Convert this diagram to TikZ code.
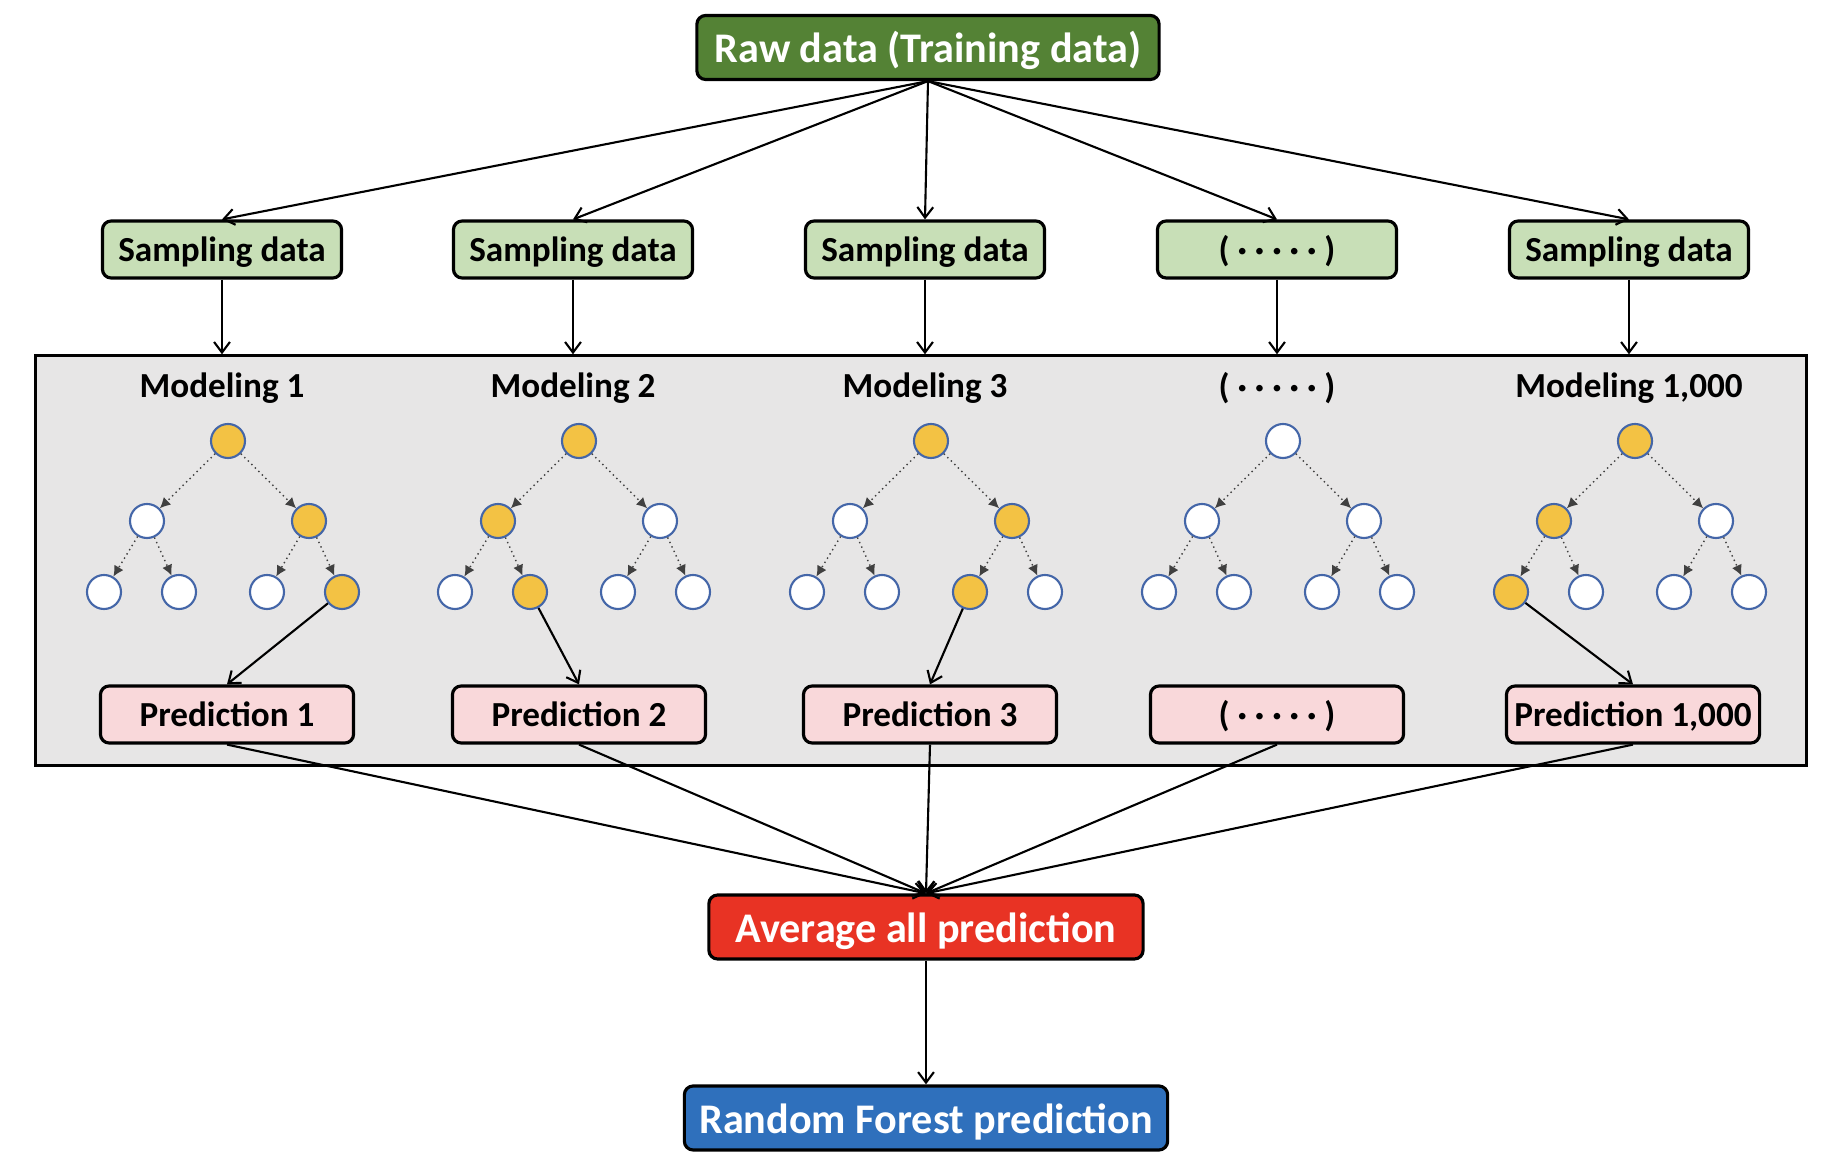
\documentclass[tikz,border=0pt]{standalone}
\usepackage{fontspec}
\setmainfont{Carlito}
\usetikzlibrary{arrows.meta}

\definecolor{rawgreen}{HTML}{548235}
\definecolor{sampgreen}{HTML}{C8DFB7}
\definecolor{predpink}{HTML}{F9D8DA}
\definecolor{avgred}{HTML}{E83324}
\definecolor{rfblue}{HTML}{2F70BC}
\definecolor{panelgray}{HTML}{E7E6E6}
\definecolor{nodeorange}{HTML}{F3C244}
\definecolor{nodeblue}{HTML}{4466A8}

\tikzset{
    rbox/.style = {draw, line width = 0.9pt, rounded corners = 2.5pt, inner sep = 0pt,
                   text height = 7pt, text depth = 0pt,
                   font = \bfseries\fontsize{10}{12}\selectfont},
    sampbox/.style = {rbox, fill = sampgreen, minimum width = 2.39cm, minimum height = 0.57cm},
    predbox/.style = {rbox, fill = predpink, minimum width = 2.53cm, minimum height = 0.57cm},
    bigbox/.style = {rbox, text = white, minimum height = 0.64cm, text height = 8.6pt,
                     font = \bfseries\fontsize{12}{14}\selectfont},
    onpath/.style = {circle, draw = nodeblue, line width = 0.6pt, fill = nodeorange,
                     minimum size = 0.34cm, inner sep = 0pt},
    offpath/.style = {onpath, fill = white},
    flow/.style = {-{Straight Barb[length = 3pt, width = 4.5pt]}, line width = 0.6pt},
    split/.style = {-{Latex[length = 3pt, width = 3pt]}, densely dotted, line width = 0.4pt, black!75},
}

\begin{document}
\begin{tikzpicture}[x = 0.01cm, y = -0.01cm]
    \useasboundingbox (0,0) rectangle (1841,1167);

    % source
    \node[bigbox, fill = rawgreen, minimum width = 4.62cm] (raw) at (928, 47.5) {Raw data (Training data)};

    % modelling panel
    \node[draw, fill = panelgray, line width = 0.9pt, minimum width = 17.70cm, minimum height = 4.09cm] (panel) at (921, 560.5) {};

    % bootstrap samples
    \node[sampbox] (s1) at (222, 249.5) {Sampling data};
    \node[sampbox] (s2) at (573, 249.5) {Sampling data};
    \node[sampbox] (s3) at (925, 249.5) {Sampling data};
    \node[sampbox] (s4) at (1277, 249.5) {( · · · · · )};
    \node[sampbox] (s5) at (1629, 249.5) {Sampling data};

    \foreach \k in {1,...,5} {
        \draw[flow] (raw.south) -- (s\k.north);
        \draw[flow] (s\k.south) -- (s\k.south |- panel.north);
    }

    % model titles
    \node[font = \bfseries\fontsize{10}{12}\selectfont] (m1) at (222, 388) {Modeling 1};
    \node[font = \bfseries\fontsize{10}{12}\selectfont] (m2) at (573, 388) {Modeling 2};
    \node[font = \bfseries\fontsize{10}{12}\selectfont] (m3) at (925, 388) {Modeling 3};
    \node[font = \bfseries\fontsize{10}{12}\selectfont] (m4) at (1277, 388) {( · · · · · )};
    \node[font = \bfseries\fontsize{10}{12}\selectfont] (m5) at (1629, 388) {Modeling 1,000};

    % one small tree per model
    \foreach \n/\cx/\ka/\kb/\kc/\kd/\ke/\kf/\kg in {
            1/222/onpath/offpath/onpath/offpath/offpath/offpath/onpath,
            2/573/onpath/onpath/offpath/offpath/onpath/offpath/offpath,
            3/925/onpath/offpath/onpath/offpath/offpath/onpath/offpath,
            4/1277/offpath/offpath/offpath/offpath/offpath/offpath/offpath,
            5/1629/onpath/onpath/offpath/onpath/offpath/offpath/offpath} {
        \node[\ka] (t\n r) at (\cx + 6, 441) {};
        \node[\kb] (t\n a) at (\cx - 75, 521) {};
        \node[\kc] (t\n b) at (\cx + 87, 521) {};
        \node[\kd] (t\n c) at (\cx - 118, 592) {};
        \node[\ke] (t\n d) at (\cx - 43, 592) {};
        \node[\kf] (t\n e) at (\cx + 45, 592) {};
        \node[\kg] (t\n f) at (\cx + 120, 592) {};

        \draw[split] (t\n r) -- (t\n a);
        \draw[split] (t\n r) -- (t\n b);
        \draw[split] (t\n a) -- (t\n c);
        \draw[split] (t\n a) -- (t\n d);
        \draw[split] (t\n b) -- (t\n e);
        \draw[split] (t\n b) -- (t\n f);
    }

    % predictions
    \node[predbox] (p1) at (227, 714.5) {Prediction 1};
    \node[predbox] (p2) at (579, 714.5) {Prediction 2};
    \node[predbox] (p3) at (930, 714.5) {Prediction 3};
    \node[predbox] (p4) at (1277, 714.5) {( · · · · · )};
    \node[predbox] (p5) at (1633, 714.5) {Prediction 1,000};

    \draw[flow] (t1f) -- (p1.north);
    \draw[flow] (t2d) -- (p2.north);
    \draw[flow] (t3e) -- (p3.north);
    \draw[flow] (t5c) -- (p5.north);

    % aggregation
    \node[bigbox, fill = avgred, minimum width = 4.34cm] (avg) at (926, 927) {Average all prediction};
    \node[bigbox, fill = rfblue, minimum width = 4.83cm] (rf) at (926, 1118) {Random Forest prediction};

    \foreach \k in {1,...,5}
        \draw[flow] (p\k.south) -- (avg.north);
    \draw[flow] (avg) -- (rf);
\end{tikzpicture}
\end{document}
